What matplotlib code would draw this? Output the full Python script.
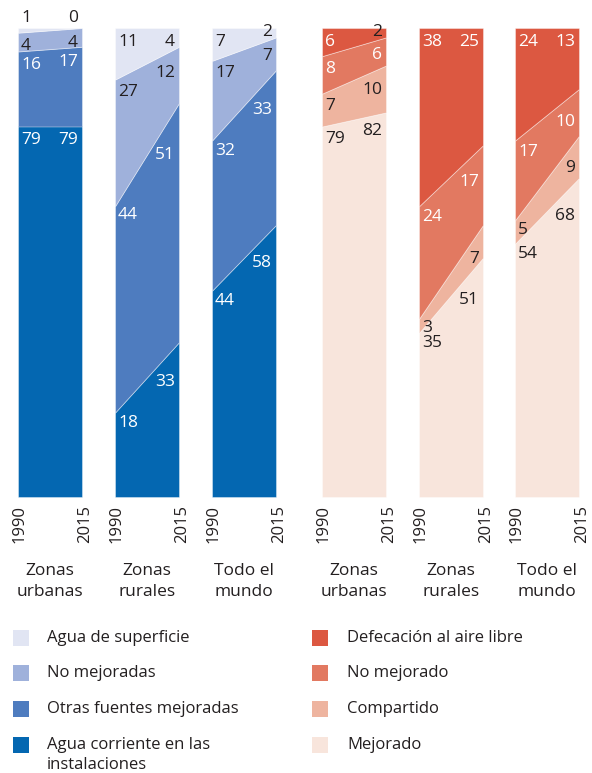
import matplotlib
matplotlib.use("Agg")
import matplotlib.pyplot as plt
from matplotlib.patches import Rectangle

plt.rcParams['font.family'] = ['Open Sans', 'DejaVu Sans']

# ---- data (percent of population, [1990, 2015]) ----
regions = ['Zonas\nurbanas', 'Zonas\nrurales', 'Todo el\nmundo']
years = ['1990', '2015']

# water, bottom -> top
water_piped = [[79, 79], [18, 33], [44, 58]]
water_other = [[16, 17], [44, 51], [32, 33]]
water_unimp = [[4, 4], [27, 12], [17, 7]]
water_surface = [[1, 0], [11, 4], [7, 2]]

# sanitation, bottom -> top
san_improved = [[79, 82], [35, 51], [54, 68]]
san_shared = [[7, 10], [3, 7], [5, 9]]
san_unimp = [[8, 6], [24, 17], [17, 10]]
san_open = [[6, 2], [38, 25], [24, 13]]

water_names = ['Agua corriente en las\ninstalaciones', 'Otras fuentes mejoradas',
               'No mejoradas', 'Agua de superficie']
san_names = ['Mejorado', 'Compartido', 'No mejorado', 'Defecación al aire libre']

water_colors = ['#0467B1', '#4E7CBF', '#9FB1DB', '#E1E5F3']
san_colors = ['#F8E5DC', '#EEB49F', '#E27961', '#DC5841']
water_txt = ['white', 'white', '#231F20', '#231F20']
san_txt = ['#231F20', '#231F20', 'white', 'white']

DARK = '#231F20'
W, H = 592, 773
BW = 64
lefts = [18, 115, 212, 322, 419, 515]
FS = 12.5

fig = plt.figure(figsize=(W / 100, H / 100), dpi=100)
ax = fig.add_axes([0, (H - 497) / H, 1, 469 / H])
ax.set_xlim(0, W)
ax.set_ylim(0, 100)
ax.axis('off')


def put_label(left, lo, hi, side, val, color):
    s = str(val)
    tw = 10 * len(s)
    if side == 0:
        x = left + 3
        xs = (x, x + tw)
        ha = 'left'
    else:
        x = left + BW - 4
        xs = (x - tw, x)
        ha = 'right'
    f = lambda xx: hi[0] + (hi[1] - hi[0]) * (xx - left) / BW
    if val <= 1:
        ax.text(x, hi[side] + 0.5, s, ha=ha, va='bottom', color=DARK, fontsize=FS)
    elif val == 2:
        ax.text(x, hi[side] + 0.8, s, ha=ha, va='top', color=DARK, fontsize=FS)
    else:
        y = min(f(xs[0]), f(xs[1])) - 1.2
        ax.text(x, y, s, ha=ha, va='top', color=color, fontsize=FS)


def draw_bar(left, layers, colors, txtcols):
    base = [0, 0]
    for vals, c, tc in zip(layers, colors, txtcols):
        top = [base[0] + vals[0], base[1] + vals[1]]
        ax.fill_between([left, left + BW], base, top, facecolor=c,
                        edgecolor=(1, 1, 1, 0.45), linewidth=0.6)
        for side in (0, 1):
            put_label(left, base, top, side, vals[side], tc)
        base = top


water_layers = [water_piped, water_other, water_unimp, water_surface]
san_layers = [san_improved, san_shared, san_unimp, san_open]

for i in range(3):
    draw_bar(lefts[i], [l[i] for l in water_layers], water_colors, water_txt)
    draw_bar(lefts[i + 3], [l[i] for l in san_layers], san_colors, san_txt)

# year and region labels
for k, left in enumerate(lefts):
    fig.text((left + 2) / W, 1 - 505 / H, years[0], rotation=90, ha='center',
             va='top', fontsize=FS - 0.5, color=DARK)
    fig.text((left + BW + 3) / W, 1 - 505 / H, years[1], rotation=90, ha='center',
             va='top', fontsize=FS - 0.5, color=DARK)
    fig.text((left + BW / 2) / W, 1 - 563 / H, regions[k % 3], ha='center',
             va='top', fontsize=FS, color=DARK, linespacing=1.45)

# legend
rows = [638, 673, 709, 745]
for col, (names, colors) in enumerate([(water_names, water_colors), (san_names, san_colors)]):
    sx = 13 if col == 0 else 312
    tx = 47 if col == 0 else 347
    for r, (name, c) in enumerate(zip(names[::-1], colors[::-1])):
        yc = rows[r]
        fig.add_artist(Rectangle((sx / W, 1 - (yc + 8) / H), 16 / W, 16 / H,
                                 transform=fig.transFigure, facecolor=c, edgecolor='none'))
        fig.text(tx / W, 1 - (yc - 8) / H, name, ha='left', va='top',
                 fontsize=FS - 0.5, color=DARK, linespacing=1.35)

fig.savefig('out.png', dpi=100, facecolor='white')
